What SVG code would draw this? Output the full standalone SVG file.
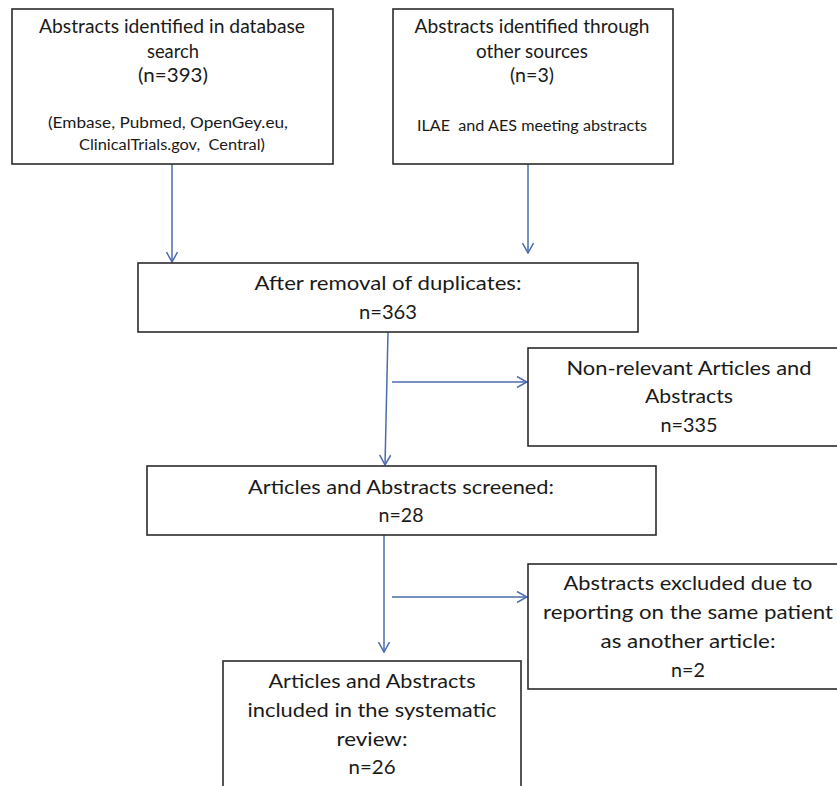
<svg xmlns="http://www.w3.org/2000/svg" width="837" height="786" viewBox="0 0 837 786">
<defs>
<style>
.box{fill:#fff;stroke:#2b2b2b;stroke-width:1.6}
.t{font-family:Lato,"Open Sans","Liberation Sans",sans-serif;fill:#1a1a1a;text-anchor:middle}
.m{font-size:20px}
.h{font-size:18.5px}
.s{font-size:15.5px}
.c{fill:none;stroke:#4a6cae;stroke-width:1.5}
</style>
<marker id="arr" viewBox="0 0 12 12" refX="11" refY="6" markerWidth="12" markerHeight="12" markerUnits="userSpaceOnUse" orient="auto">
<path d="M1,0.5 L11,6 L1,11.5" fill="none" stroke="#4a6cae" stroke-width="1.5"/>
</marker>
</defs>
<rect width="837" height="786" fill="#fff"/>
<g id="connectors">
<line class="c" x1="172" y1="164" x2="172" y2="262" marker-end="url(#arr)"/>
<line class="c" x1="528" y1="164" x2="528" y2="253" marker-end="url(#arr)"/>
<line class="c" x1="388" y1="332" x2="385" y2="465" marker-end="url(#arr)"/>
<line class="c" x1="392" y1="382" x2="527" y2="382" marker-end="url(#arr)"/>
<line class="c" x1="384" y1="535" x2="384" y2="652" marker-end="url(#arr)"/>
<line class="c" x1="392" y1="597" x2="527" y2="597" marker-end="url(#arr)"/>
</g>
<g id="n1">
<rect class="box" x="12" y="9" width="321" height="155"/>
<text class="t h" x="172" y="33" textLength="266" lengthAdjust="spacingAndGlyphs">Abstracts identified in database</text>
<text class="t h" x="173" y="58" textLength="52" lengthAdjust="spacingAndGlyphs">search</text>
<text class="t h" x="173" y="82" textLength="70" lengthAdjust="spacingAndGlyphs">(n=393)</text>
<text class="t s" x="168" y="128" textLength="240" lengthAdjust="spacingAndGlyphs">(Embase, Pubmed, OpenGey.eu,</text>
<text class="t s" x="172" y="150" textLength="186" lengthAdjust="spacingAndGlyphs">ClinicalTrials.gov,&#160; Central)</text>
</g>
<g id="n2">
<rect class="box" x="393" y="9" width="280" height="155"/>
<text class="t h" x="532" y="33" textLength="235" lengthAdjust="spacingAndGlyphs">Abstracts identified through</text>
<text class="t h" x="532" y="58" textLength="112" lengthAdjust="spacingAndGlyphs">other sources</text>
<text class="t h" x="532" y="82" textLength="44" lengthAdjust="spacingAndGlyphs">(n=3)</text>
<text class="t s" x="532" y="131" textLength="230" lengthAdjust="spacingAndGlyphs">ILAE&#160; and AES meeting abstracts</text>
</g>
<g id="n3">
<rect class="box" x="138" y="263" width="500" height="69"/>
<text class="t m" x="388" y="290" textLength="267" lengthAdjust="spacingAndGlyphs">After removal of duplicates:</text>
<text class="t m" x="388" y="319" textLength="58" lengthAdjust="spacingAndGlyphs">n=363</text>
</g>
<g id="n4">
<rect class="box" x="528" y="348" width="320" height="98"/>
<text class="t m" x="689" y="375" textLength="245" lengthAdjust="spacingAndGlyphs">Non-relevant Articles and</text>
<text class="t m" x="689" y="403" textLength="88" lengthAdjust="spacingAndGlyphs">Abstracts</text>
<text class="t m" x="689" y="432" textLength="57" lengthAdjust="spacingAndGlyphs">n=335</text>
</g>
<g id="n5">
<rect class="box" x="147" y="466" width="509" height="69"/>
<text class="t m" x="401" y="494" textLength="306" lengthAdjust="spacingAndGlyphs">Articles and Abstracts screened:</text>
<text class="t m" x="401" y="522" textLength="45" lengthAdjust="spacingAndGlyphs">n=28</text>
</g>
<g id="n6">
<rect class="box" x="223" y="661" width="298" height="140"/>
<text class="t m" x="372" y="688" textLength="207" lengthAdjust="spacingAndGlyphs">Articles and Abstracts</text>
<text class="t m" x="372" y="717" textLength="249" lengthAdjust="spacingAndGlyphs">included in the systematic</text>
<text class="t m" x="372" y="746" textLength="71" lengthAdjust="spacingAndGlyphs">review:</text>
<text class="t m" x="372" y="774" textLength="47" lengthAdjust="spacingAndGlyphs">n=26</text>
</g>
<g id="n7">
<rect class="box" x="528" y="564" width="320" height="125"/>
<text class="t m" x="688" y="590" textLength="249" lengthAdjust="spacingAndGlyphs">Abstracts excluded due to</text>
<text class="t m" x="688" y="619" textLength="290" lengthAdjust="spacingAndGlyphs">reporting on the same patient</text>
<text class="t m" x="688" y="648" textLength="175" lengthAdjust="spacingAndGlyphs">as another article:</text>
<text class="t m" x="688" y="677" textLength="34" lengthAdjust="spacingAndGlyphs">n=2</text>
</g>
</svg>
